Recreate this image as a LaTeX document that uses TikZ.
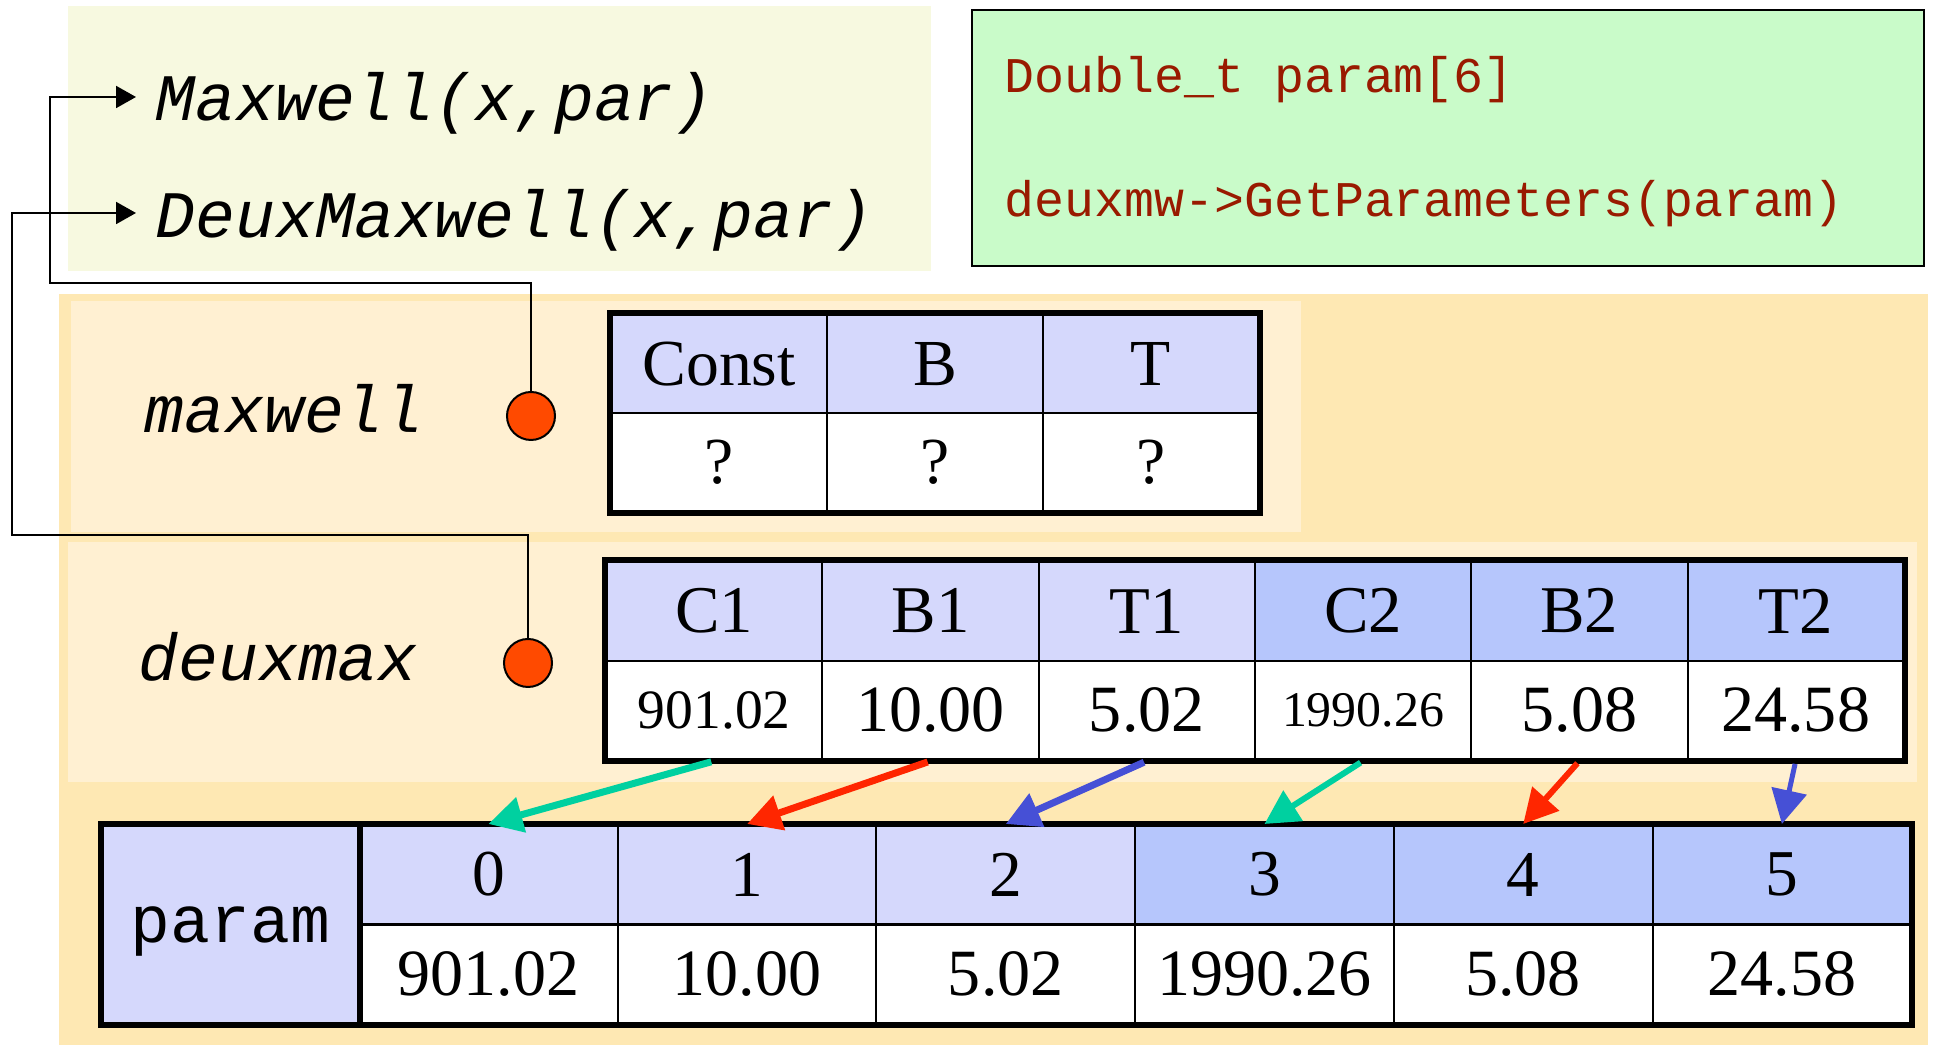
\documentclass[tikz,border=0pt]{standalone}
\usepackage{fontspec}
\setmainfont{Liberation Serif}
\newfontfamily\monof{Liberation Mono}
\usetikzlibrary{arrows.meta}
\definecolor{paleyellow}{HTML}{F7F9E0}
\definecolor{codegreen}{HTML}{C9FBC9}
\definecolor{codered}{HTML}{991A00}
\definecolor{bgorange}{HTML}{FEE8B3}
\definecolor{panel}{HTML}{FFF0D2}
\definecolor{lav}{HTML}{D5D8FC}
\definecolor{blu}{HTML}{B6C6FC}
\definecolor{dotred}{HTML}{FF4A00}
\definecolor{agreen}{HTML}{00D0A0}
\definecolor{ared}{HTML}{FF2600}
\definecolor{ablue}{HTML}{4650D6}
\newcommand\fsz[1]{\fontsize{#1}{#1}\selectfont}
\begin{document}
\begin{tikzpicture}[x=0.1mm,y=-0.1mm,
  cell/.style={draw=black,line width=0.2mm,inner sep=0pt,anchor=center},
  frame/.style={line width=0.6mm,draw=black},
  bigmono/.style={font=\monof\itshape\fsz{18.9pt},inner sep=0pt,anchor=base west},
  codetxt/.style={font=\monof\fsz{14.2pt},text=codered,inner sep=0pt,anchor=base west},
  dot/.style={circle,draw=black,line width=0.2mm,fill=dotred,minimum size=4.8mm,inner sep=0pt},
  conn/.style={line width=0.2mm,-{Triangle[length=2mm,width=2.2mm]}},
  cpy/.style={line width=#1,-{Triangle[length=3.4mm,width=3.5mm]},shorten <=0.3mm},
]
\useasboundingbox (0,0) rectangle (1934,1045);
\fill[white] (0,0) rectangle (1934,1045);
% backgrounds
\fill[paleyellow] (68,6) rectangle (931,271);
\fill[bgorange] (59,294) rectangle (1928,1045);
\fill[panel] (71,301) rectangle (1301,532);
\fill[panel] (68,542) rectangle (1917,782);
% code box
\draw[fill=codegreen,line width=0.25mm] (972,10) rectangle (1924,266);
\node[codetxt] (code1) at (1004,93) {Double\_t param[6]};
\node[codetxt] (code2) at (1004,217) {deuxmw->GetParameters(param)};
% function names
\node[bigmono] (fmax) at (155,121) {Maxwell(x,par)};
\node[bigmono] (fdeux) at (155,238) {DeuxMaxwell(x,par)};
\coordinate (tipM) at (136,97);
\coordinate (tipD) at (136,213);
% object names and dots
\node[bigmono] (lmax) at (144,433) {maxwell};
\node[bigmono] (ldeux) at (138,681) {deuxmax};
\node[dot] (mdot) at (531,416) {};
\node[dot] (ddot) at (528,663) {};
\coordinate (bendM) at (50,283);
\coordinate (bendD) at (12,535);
\draw[conn] (mdot.north) |- (bendM) |- (tipM);
\draw[conn] (ddot.north) |- (bendD) |- (tipD);
% maxwell table
\foreach \i/\t/\x in {1/Const/719,2/B/935,3/T/1151}{
  \node[cell,fill=lav,minimum width=21.6mm,minimum height=9.85mm,font=\fsz{18.7pt}] (m\i h) at (\x,363.75) {\t};
  \node[cell,fill=white,minimum width=21.6mm,minimum height=9.9mm,font=\fsz{18.7pt}] (m\i d) at (\x,462.5) {?};
}
\draw[frame] (m1h.north west) rectangle (m3d.south east);
% deuxmax table
\foreach \i/\t/\c/\x in {1/C1/lav/714.2,2/B1/lav/930.5,3/T1/lav/1146.8,4/C2/blu/1363.1,5/B2/blu/1579.4,6/T2/blu/1795.7}{
  \node[cell,fill=\c,minimum width=21.63mm,minimum height=10mm,font=\fsz{19pt}] (d\i h) at (\x,611) {\t};
}
\node[cell,fill=white,minimum width=21.63mm,minimum height=9.9mm,font=\fsz{15.8pt}] (d1d) at (714.2,710.5) {901.02};
\node[cell,fill=white,minimum width=21.63mm,minimum height=9.9mm,font=\fsz{18.8pt}] (d2d) at (930.5,710.5) {10.00};
\node[cell,fill=white,minimum width=21.63mm,minimum height=9.9mm,font=\fsz{18.8pt}] (d3d) at (1146.8,710.5) {5.02};
\node[cell,fill=white,minimum width=21.63mm,minimum height=9.9mm,font=\fsz{14.2pt}] (d4d) at (1363.1,710.5) {1990.26};
\node[cell,fill=white,minimum width=21.63mm,minimum height=9.9mm,font=\fsz{18.8pt}] (d5d) at (1579.4,710.5) {5.08};
\node[cell,fill=white,minimum width=21.63mm,minimum height=9.9mm,font=\fsz{18.8pt}] (d6d) at (1795.7,710.5) {24.58};
\draw[frame] (d1h.north west) rectangle (d6d.south east);
% param table
\node[cell,fill=lav,minimum width=25.75mm,minimum height=19.9mm] (plabel) at (230.25,924.5) {};
\node[font=\monof\fsz{18.9pt},inner sep=0pt,anchor=base] (ptext) at (230.25,943) {param};
\foreach \i/\t/\c/\v/\x in {1/0/lav/901.02/488.4,2/1/lav/10.00/747.1,3/2/lav/5.02/1005.8,4/3/blu/1990.26/1264.5,5/4/blu/5.08/1523.2,6/5/blu/24.58/1781.9}{
  \node[cell,fill=\c,minimum width=25.87mm,minimum height=9.9mm,font=\fsz{18.6pt}] (p\i h) at (\x,874.5) {\t};
  \node[cell,fill=white,minimum width=25.87mm,minimum height=10mm,font=\fsz{18.8pt}] (p\i d) at (\x,974) {\v};
}
\draw[line width=0.3mm] (p1h.south west) -- (p6h.south east);
\draw[frame] (plabel.north east) -- (plabel.south east);
\draw[frame] (plabel.north west) rectangle (p6d.south east);
% copy arrows
\draw[cpy=0.7mm,agreen] (d1d.south) -- (p1h.north);
\draw[cpy=0.7mm,ared] (d2d.south) -- (p2h.north);
\draw[cpy=0.7mm,ablue] (d3d.south) -- (p3h.north);
\draw[cpy=0.6mm,agreen] (d4d.south) -- (p4h.north);
\draw[cpy=0.6mm,ared] (d5d.south) -- (p5h.north);
\draw[cpy=0.5mm,ablue] (d6d.south) -- (p6h.north);
\end{tikzpicture}
\end{document}
